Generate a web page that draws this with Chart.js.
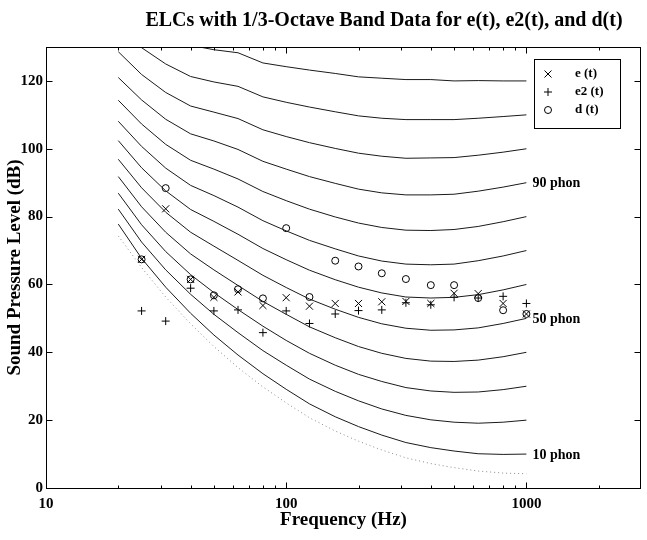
<!DOCTYPE html>
<html><head><meta charset="utf-8">
<script src="https://cdn.jsdelivr.net/npm/chart.js@4.4.1/dist/chart.umd.min.js"></script>
<style>html,body{margin:0;padding:0;background:#fff}#wrap{width:647px;height:540px}</style>
</head><body><div id="wrap"><canvas id="c" width="647" height="540"></canvas></div>
<script>
// Equal-loudness contour frequencies (Hz)
const freqs = [20,25,31.5,40,50,63,80,100,125,160,200,250,315,400,500,630,800,1000];
// Threshold (dotted) and contours 10..120 phon (dB SPL)
const threshold = [74.3,65.0,56.3,48.4,41.7,35.5,29.8,25.1,20.7,16.8,13.8,11.2,8.9,7.2,6.0,5.0,4.4,4.2];
const phon10  = [77.8,67.7,59.2,51.5,45.1,39.2,33.7,29.1,24.8,21.0,18.1,15.6,13.4,11.9,10.9,10.1,9.9,10];
const phon20  = [82.2,72.5,64.3,57.1,51.2,45.8,40.5,36.2,32.1,28.5,25.7,23.3,21.4,20.1,19.4,19.1,19.4,20];
const phon30  = [86.9,77.6,69.7,62.9,57.6,52.6,47.7,43.5,39.7,36.2,33.5,31.4,29.6,28.6,28.2,28.3,29.0,30];
const phon40  = [91.8,82.9,75.4,69.0,64.3,59.7,55.0,51.2,47.5,44.3,41.7,39.7,38.2,37.4,37.3,37.7,38.7,40];
const phon50  = [96.9,88.5,81.3,75.4,71.3,67.1,62.7,59.1,55.7,52.7,50.3,48.4,47.1,46.5,46.6,47.2,48.5,50];
const phon60  = [102.4,94.4,87.6,82.1,78.6,74.8,70.6,67.3,64.2,61.4,59.2,57.5,56.3,56.0,56.2,57.0,58.4,60];
const phon70  = [108.1,100.7,94.3,89.2,86.2,82.8,78.8,75.8,73.0,70.5,68.4,66.9,66.0,65.8,66.0,67.0,68.4,70];
const phon80  = [114.3,107.3,101.3,96.6,94.0,91.1,87.4,84.7,82.2,79.9,78.1,76.8,76.0,75.9,76.2,77.1,78.5,80];
const phon90  = [121.0,114.4,108.7,104.4,102.3,99.8,96.3,94.0,91.8,89.8,88.1,87.0,86.4,86.4,86.6,87.5,88.7,90];
const phon100 = [128.6,121.9,116.6,112.6,110.8,108.9,105.6,103.6,101.8,100.1,98.7,97.8,97.2,97.3,97.4,98.1,99.0,100];
const phon110 = [135.5,129.8,125.0,121.3,119.7,118.4,115.3,113.7,112.3,110.9,109.7,109.0,108.6,108.6,108.6,109.0,109.5,110];
const phon120 = [143.0,138.3,133.9,130.5,129.2,128.3,125.3,124.2,123.2,122.2,121.2,120.8,120.4,120.4,120.0,120.1,120.0,120];
const contours = [phon10,phon20,phon30,phon40,phon50,phon60,phon70,phon80,phon90,phon100,phon110,phon120];

// 1/3-octave band data
const bandFreqs = [25,31.5,40,50,63,80,100,125,160,200,250,315,400,500,630,800,1000];
const eT  = [67.4,82.3,61.5,56.2,57.8,53.8,56.1,53.6,54.4,54.4,54.9,55.0,54.4,57.4,57.3,54.4,51.3];
const e2T = [52.2,49.2,58.9,52.2,52.5,45.8,52.2,48.5,51.3,52.3,52.5,54.6,54.0,56.2,56.0,56.5,54.4];
const dT  = [67.4,88.4,61.5,56.8,58.6,55.9,76.6,56.3,67.0,65.3,63.3,61.6,59.8,59.8,56.0,52.4,51.3];

const xTicks = [10,100,1000];
const yTicks = [0,20,40,60,80,100,120];
const phonLabelValues = [10,50,90];
const phonLabels = ['10 phon','50 phon','90 phon'];
const legendLabels = ['e (t)','e2 (t)','d (t)'];
const titleText = 'ELCs with 1/3-Octave Band Data for e(t), e2(t), and d(t)';

const SERIF = '"Liberation Serif","Times New Roman",serif';
const pts = (xs, ys) => xs.map((f,i)=>({x:f,y:ys[i]}));

const datasets = [];
datasets.push({data:pts(freqs,threshold),showLine:true,pointRadius:0,borderColor:'#8a8a8a',borderWidth:1,borderDash:[1,3]});
contours.forEach(c=>datasets.push({data:pts(freqs,c),showLine:true,pointRadius:0,borderColor:'#1a1a1a',borderWidth:1}));
datasets.push({data:pts(bandFreqs,eT),showLine:false,pointStyle:'crossRot',pointRadius:5,borderColor:'#000',borderWidth:1});
datasets.push({data:pts(bandFreqs,e2T),showLine:false,pointStyle:'cross',pointRadius:4,borderColor:'#000',borderWidth:1});
datasets.push({data:pts(bandFreqs,dT),showLine:false,pointStyle:'circle',pointRadius:3.5,borderColor:'#000',backgroundColor:'rgba(0,0,0,0)',borderWidth:1});

function mark(ctx, style, x, y){
  ctx.beginPath();
  if(style==='x'){ctx.moveTo(x-3.5,y-3.5);ctx.lineTo(x+3.5,y+3.5);ctx.moveTo(x+3.5,y-3.5);ctx.lineTo(x-3.5,y+3.5);}
  else if(style==='+'){ctx.moveTo(x-4,y);ctx.lineTo(x+4,y);ctx.moveTo(x,y-4);ctx.lineTo(x,y+4);}
  else {ctx.arc(x,y,3.5,0,Math.PI*2);}
  ctx.stroke();
}

const deco = {
  id:'deco',
  afterDatasetsDraw(chart){
    const {ctx, chartArea:a, scales:{x,y}} = chart;
    ctx.save();
    ctx.strokeStyle='#000'; ctx.lineWidth=1;
    const L=Math.round(a.left)+0.5, R=Math.round(a.right)-0.5, T=Math.round(a.top)+0.5, B=Math.round(a.bottom)+0.5;
    ctx.strokeRect(L,T,R-L,B-T);
    ctx.beginPath();
    [10,100,1000].forEach(d=>{for(let m=1;m<10;m++){const v=d*m; if(v<10||v>=3000) continue;
      const px=Math.round(x.getPixelForValue(v))+0.5; const len=m===1?6:3;
      ctx.moveTo(px,B);ctx.lineTo(px,B-len);ctx.moveTo(px,T);ctx.lineTo(px,T+len);}});
    yTicks.forEach(v=>{const py=Math.round(y.getPixelForValue(v))+0.5;
      ctx.moveTo(L,py);ctx.lineTo(L+6,py);ctx.moveTo(R,py);ctx.lineTo(R-6,py);});
    ctx.stroke();
    // phon labels
    ctx.fillStyle='#000';
    ctx.font='bold 14px '+SERIF; ctx.textAlign='left'; ctx.textBaseline='middle';
    phonLabelValues.forEach((v,i)=>ctx.fillText(phonLabels[i], x.getPixelForValue(1000)+6, y.getPixelForValue(v)+1));
    // legend
    ctx.fillStyle='#fff'; ctx.fillRect(534.5,59.5,86,69); ctx.strokeRect(534.5,59.5,86,69);
    ctx.fillStyle='#000'; ctx.font='bold 13px '+SERIF;
    const ly=[74,92,110], st=['x','+','o'];
    ly.forEach((yy,i)=>{mark(ctx,st[i],548,yy); ctx.fillText(legendLabels[i],575,yy);});
    // title
    ctx.font='bold 20px '+SERIF; ctx.textAlign='center'; ctx.textBaseline='middle';
    ctx.fillText(titleText, 384, 21);
    ctx.restore();
  }
};

new Chart(document.getElementById('c'), {
  type:'scatter',
  data:{datasets},
  plugins:[deco],
  options:{
    responsive:false, animation:false, devicePixelRatio:1,
    layout:{padding:{top:47,right:1,left:0,bottom:0}},
    plugins:{legend:{display:false},tooltip:{enabled:false},title:{display:false}},
    scales:{
      x:{type:'logarithmic',min:10,max:3000,
        grid:{display:false,drawTicks:false},border:{display:false},
        afterBuildTicks:s=>{s.ticks=xTicks.map(v=>({value:v}));},
        afterFit:s=>{s.height=52;},
        ticks:{color:'#000',font:{family:SERIF,size:15,weight:'bold'},padding:7,maxRotation:0,autoSkip:false,callback:v=>String(v)},
        title:{display:true,text:'Frequency (Hz)',color:'#000',font:{family:SERIF,size:19,weight:'bold'},padding:{top:0,bottom:9}}
      },
      y:{type:'linear',min:0,max:130,
        grid:{display:false,drawTicks:false},border:{display:false},
        afterBuildTicks:s=>{s.ticks=yTicks.map(v=>({value:v}));},
        afterFit:s=>{s.width=46;},
        ticks:{color:'#000',font:{family:SERIF,size:15,weight:'bold'},padding:3,callback:v=>String(v)},
        title:{display:true,text:'Sound Pressure Level (dB)',color:'#000',font:{family:SERIF,size:19,weight:'bold'},padding:{top:4,bottom:0}}
      }
    }
  }
});
</script></body></html>
